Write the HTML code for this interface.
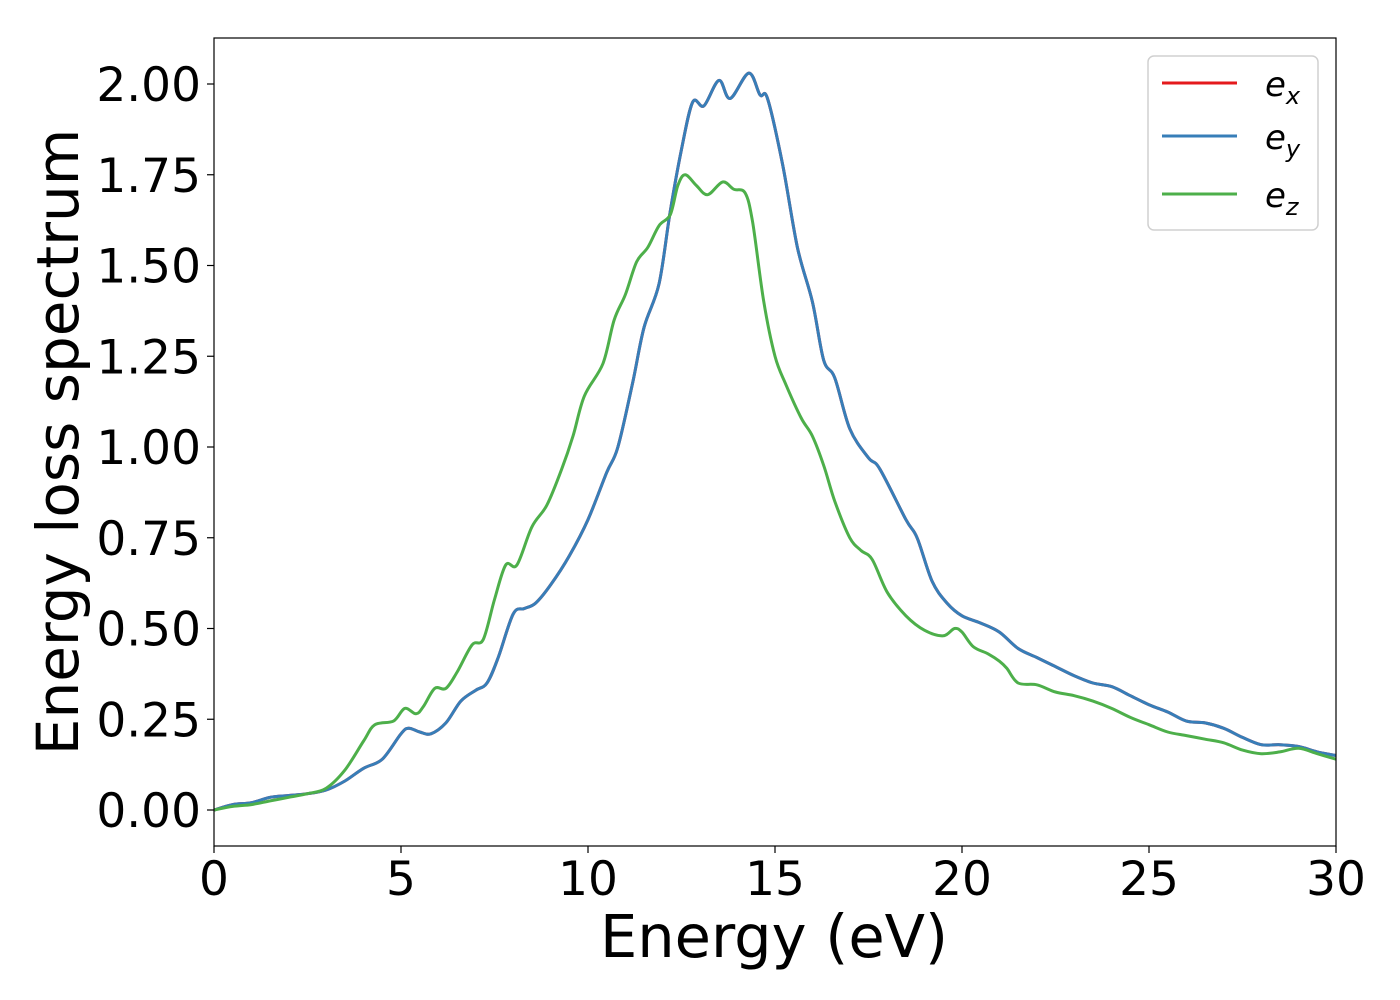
<!DOCTYPE html>
<html><head><meta charset="utf-8"><style>
html,body{margin:0;padding:0;background:#fff;}
svg{display:block;font-family:"DejaVu Sans","Liberation Sans",sans-serif;}
</style></head><body>
<svg id="chart" width="1400" height="1000" viewBox="0 0 1400 1000">
<rect x="0" y="0" width="1400" height="1000" fill="#fff"/>
<g id="series"></g>
<rect x="214" y="38" width="1122" height="808" fill="none" stroke="#000" stroke-width="1.2"/>
<g id="xticks"></g>
<g id="yticks"></g>
<text x="774" y="957" font-size="59" text-anchor="middle">Energy (eV)</text>
<text x="0" y="0" font-size="58" text-anchor="middle" transform="translate(78,442) rotate(-90)">Energy loss spectrum</text>
<g>
<rect x="1148" y="56" width="170" height="174" rx="6" fill="#fff" fill-opacity="0.8" stroke="#d0d0d0" stroke-width="1.5"/>
<line x1="1162" y1="83" x2="1237" y2="83" stroke="#e41a1c" stroke-width="3"/>
<text x="1265" y="96" font-size="34" font-style="italic">e<tspan font-size="24" dy="8">x</tspan></text>
<line x1="1162" y1="136" x2="1237" y2="136" stroke="#377eb8" stroke-width="3"/>
<text x="1265" y="149" font-size="34" font-style="italic">e<tspan font-size="24" dy="8">y</tspan></text>
<line x1="1162" y1="194" x2="1237" y2="194" stroke="#4daf4a" stroke-width="3"/>
<text x="1265" y="207" font-size="34" font-style="italic">e<tspan font-size="24" dy="8">z</tspan></text>
</g>
</svg>
<script>
const xyEnergy=[0,0.5,1,1.5,2,2.5,3,3.5,4,4.5,5,5.2,5.5,5.8,6.2,6.6,7,7.3,7.6,8,8.3,8.6,9,9.5,10,10.5,10.8,11.2,11.5,11.9,12.2,12.5,12.8,13.1,13.5,13.8,14.3,14.6,14.8,15.2,15.6,16,16.3,16.6,17,17.5,17.8,18.5,18.8,19.2,19.6,20,20.5,21,21.5,22,22.5,23,23.5,24,24.5,25,25.5,26,26.5,27,27.5,28,28.5,29,29.5,30];
const xyLoss=[0,0.015,0.02,0.035,0.04,0.045,0.055,0.08,0.115,0.14,0.21,0.225,0.215,0.21,0.24,0.3,0.33,0.35,0.42,0.54,0.555,0.57,0.62,0.7,0.8,0.93,1.0,1.18,1.33,1.45,1.65,1.82,1.95,1.94,2.01,1.96,2.03,1.97,1.96,1.78,1.55,1.4,1.24,1.19,1.05,0.97,0.94,0.8,0.75,0.63,0.57,0.535,0.515,0.49,0.445,0.42,0.395,0.37,0.35,0.34,0.315,0.29,0.27,0.245,0.24,0.225,0.2,0.18,0.18,0.175,0.16,0.15];
const zEnergy=[0,0.5,1,1.5,2,2.5,3,3.5,4,4.3,4.8,5.1,5.4,5.6,5.9,6.2,6.5,6.9,7.2,7.5,7.8,8.1,8.5,8.9,9.3,9.6,9.9,10.4,10.7,11,11.3,11.6,11.9,12.2,12.4,12.6,12.9,13.2,13.6,13.9,14.2,14.4,14.7,15,15.3,15.7,16,16.3,16.6,17,17.3,17.6,18,18.5,19,19.5,19.8,20,20.3,20.7,21,21.2,21.5,22,22.5,23,23.5,24,24.5,25,25.5,26,26.5,27,27.5,28,28.5,29,29.5,30];
const zLoss=[0,0.01,0.015,0.025,0.035,0.045,0.06,0.11,0.19,0.235,0.245,0.28,0.265,0.285,0.335,0.335,0.38,0.455,0.47,0.58,0.675,0.675,0.78,0.84,0.94,1.03,1.14,1.23,1.35,1.42,1.51,1.55,1.61,1.64,1.72,1.75,1.72,1.695,1.73,1.71,1.7,1.62,1.4,1.25,1.17,1.08,1.03,0.95,0.85,0.75,0.715,0.69,0.6,0.535,0.495,0.48,0.5,0.49,0.45,0.43,0.41,0.39,0.35,0.345,0.325,0.315,0.3,0.28,0.255,0.235,0.215,0.205,0.195,0.185,0.165,0.155,0.16,0.17,0.155,0.14];
const xTickValues=[0,5,10,15,20,25,30];
const yTickValues=[0,0.25,0.5,0.75,1.0,1.25,1.5,1.75,2.0];
const yTickLabels=["0.00","0.25","0.50","0.75","1.00","1.25","1.50","1.75","2.00"];

const NS="http://www.w3.org/2000/svg";
const xScale=v=>214+v*(1336-214)/30;
const yScale=v=>810-v*(810-84)/2;

function smoothPath(xs,ys){
  const p=xs.map((x,i)=>[xScale(x),yScale(ys[i])]);
  let d="M"+p[0][0].toFixed(1)+","+p[0][1].toFixed(1);
  for(let i=0;i<p.length-1;i++){
    const p0=p[Math.max(0,i-1)],p1=p[i],p2=p[i+1],p3=p[Math.min(p.length-1,i+2)];
    const c1=[p1[0]+(p2[0]-p0[0])/6,p1[1]+(p2[1]-p0[1])/6];
    const c2=[p2[0]-(p3[0]-p1[0])/6,p2[1]-(p3[1]-p1[1])/6];
    d+="C"+c1[0].toFixed(1)+","+c1[1].toFixed(1)+" "+c2[0].toFixed(1)+","+c2[1].toFixed(1)+" "+p2[0].toFixed(1)+","+p2[1].toFixed(1);
  }
  return d;
}
const sg=document.getElementById("series");
const clip=document.createElementNS(NS,"clipPath");clip.setAttribute("id","pc");
const cr=document.createElementNS(NS,"rect");cr.setAttribute("x",214);cr.setAttribute("y",38);cr.setAttribute("width",1122);cr.setAttribute("height",808);
clip.appendChild(cr);document.getElementById("chart").appendChild(clip);
sg.setAttribute("clip-path","url(#pc)");
function addLine(xs,ys,color,name){
  const el=document.createElementNS(NS,"path");
  el.setAttribute("d",smoothPath(xs,ys));
  el.setAttribute("fill","none");el.setAttribute("stroke",color);el.setAttribute("stroke-width","3");
  el.setAttribute("stroke-linejoin","round");
  
  
  sg.appendChild(el);
}
addLine(xyEnergy,xyLoss,"#e41a1c","line-ex");
addLine(xyEnergy,xyLoss,"#377eb8","line-ey");
addLine(zEnergy,zLoss,"#4daf4a","line-ez");

const xg=document.getElementById("xticks");
xTickValues.forEach(v=>{
  const x=xScale(v);
  const t=document.createElementNS(NS,"line");
  t.setAttribute("x1",x);t.setAttribute("x2",x);t.setAttribute("y1",846);t.setAttribute("y2",853);t.setAttribute("stroke","#000");t.setAttribute("stroke-width","1.2");
  
  
  xg.appendChild(t);
  const l=document.createElementNS(NS,"text");
  l.setAttribute("x",x);l.setAttribute("y",895);l.setAttribute("font-size","47");l.setAttribute("text-anchor","middle");
  l.textContent=String(v);
  
  
  xg.appendChild(l);
});
const yg=document.getElementById("yticks");
yTickValues.forEach((v,i)=>{
  const y=yScale(v);
  const t=document.createElementNS(NS,"line");
  t.setAttribute("x1",207);t.setAttribute("x2",214);t.setAttribute("y1",y);t.setAttribute("y2",y);t.setAttribute("stroke","#000");t.setAttribute("stroke-width","1.2");
  
  
  yg.appendChild(t);
  const l=document.createElementNS(NS,"text");
  l.setAttribute("x",201);l.setAttribute("y",y+17);l.setAttribute("font-size","47");l.setAttribute("text-anchor","end");
  l.textContent=yTickLabels[i];
  
  
  yg.appendChild(l);
});
</script>
</body></html>
